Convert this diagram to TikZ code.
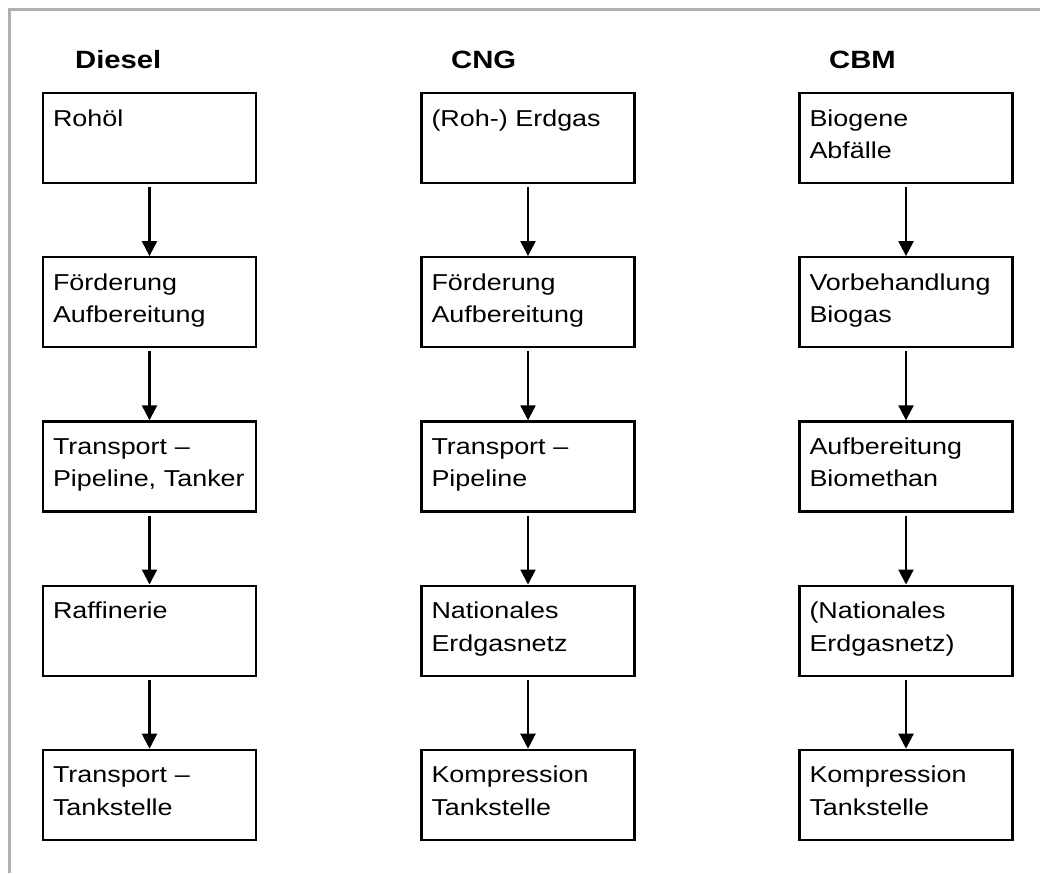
\documentclass[tikz,border=0pt]{standalone}
\usepackage{fontspec}
\setmainfont{Liberation Sans}[FakeStretch=1.17]
\usetikzlibrary{positioning,arrows.meta}
\definecolor{rahmengrau}{RGB}{176,176,176}
\tikzset{
  stufe/.style={draw,rectangle,line width=2.2pt,text width=193pt,align=left,
    inner xsep=10pt,inner ysep=0pt,text height=33pt,text depth=57pt,
    font=\fontsize{23}{32.5}\selectfont},
  titel/.style={anchor=base west,inner sep=0pt,font=\fontsize{25}{30}\selectfont\bfseries},
  pfeil/.style={line width=2.2pt,-{Triangle[width=15pt,length=15pt]},shorten <=3pt}
}

\begin{document}
\begin{tikzpicture}[x=1pt,y=-1pt]
\useasboundingbox (0,0) rectangle (1040,873);
\draw[rahmengrau,line width=2.5pt] (9.5,873)--(9.5,9.5)--(1040,9.5);
% Spaltenkoepfe
\node[titel] (tdsl) at (75,68) {Diesel};
\node[titel] (tcng) at (451,68) {CNG};
\node[titel] (tcbm) at (829,68) {CBM};
% Diesel
\node[stufe] (dsl1) at (149.5,138) {Rohöl};
\node[stufe,below=72pt of dsl1] (dsl2) {Förderung\\Aufbereitung};
\node[stufe,below=72pt of dsl2] (dsl3) {Transport --\\Pipeline, Tanker};
\node[stufe,below=72pt of dsl3] (dsl4) {Raffinerie};
\node[stufe,below=72pt of dsl4] (dsl5) {Transport --\\Tankstelle};
% CNG
\node[stufe] (cng1) at (528,138) {(Roh-) Erdgas};
\node[stufe,below=72pt of cng1] (cng2) {Förderung\\Aufbereitung};
\node[stufe,below=72pt of cng2] (cng3) {Transport --\\Pipeline};
\node[stufe,below=72pt of cng3] (cng4) {Nationales\\Erdgasnetz};
\node[stufe,below=72pt of cng4] (cng5) {Kompression\\Tankstelle};
% CBM
\node[stufe] (cbm1) at (906,138) {Biogene\\Abfälle};
\node[stufe,below=72pt of cbm1] (cbm2) {Vorbehandlung\\Biogas};
\node[stufe,below=72pt of cbm2] (cbm3) {Aufbereitung\\Biomethan};
\node[stufe,below=72pt of cbm3] (cbm4) {(Nationales\\Erdgasnetz)};
\node[stufe,below=72pt of cbm4] (cbm5) {Kompression\\Tankstelle};
% Pfeile
\draw[pfeil] (dsl1)--(dsl2);
\draw[pfeil] (dsl2)--(dsl3);
\draw[pfeil] (dsl3)--(dsl4);
\draw[pfeil] (dsl4)--(dsl5);
\draw[pfeil] (cng1)--(cng2);
\draw[pfeil] (cng2)--(cng3);
\draw[pfeil] (cng3)--(cng4);
\draw[pfeil] (cng4)--(cng5);
\draw[pfeil] (cbm1)--(cbm2);
\draw[pfeil] (cbm2)--(cbm3);
\draw[pfeil] (cbm3)--(cbm4);
\draw[pfeil] (cbm4)--(cbm5);
\end{tikzpicture}
\end{document}
